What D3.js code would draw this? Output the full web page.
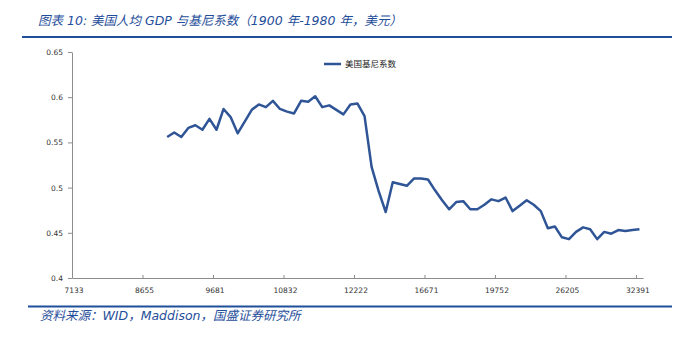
<!DOCTYPE html>
<html>
<head>
<meta charset="utf-8">
<script src="https://cdn.jsdelivr.net/npm/d3@7"></script>
<style>
  body { margin: 0; background: #fff; }
  svg { display: block; }
</style>
</head>
<body>
<svg id="chart" width="679" height="341"></svg>
<script>
// ---- data ----
const years = d3.range(1900, 1981);              // 81 categories (1900-1980)
const xTickIndex = [0, 10, 20, 30, 40, 50, 60, 70, 80];
const xTickLabels = ["7133", "8655", "9681", "10832", "12222", "16671", "19752", "26205", "32391"];
const yTicks = [0.4, 0.45, 0.5, 0.55, 0.6, 0.65];
const yTickLabels = ["0.4", "0.45", "0.5", "0.55", "0.6", "0.65"];
const giniYears = d3.range(1913, 1981);
const giniValues = [
  0.556, 0.561, 0.556, 0.566, 0.569, 0.564, 0.576, 0.564, 0.587, 0.578,
  0.560, 0.573, 0.586, 0.592, 0.589, 0.596, 0.587, 0.584, 0.582, 0.596,
  0.595, 0.601, 0.589, 0.591, 0.586, 0.581, 0.592, 0.593, 0.579, 0.523,
  0.496, 0.473, 0.506, 0.504, 0.502, 0.510, 0.510, 0.509, 0.497, 0.486,
  0.476, 0.484, 0.485, 0.476, 0.476, 0.481, 0.487, 0.485, 0.489, 0.474,
  0.480, 0.486, 0.481, 0.474, 0.455, 0.457, 0.445, 0.443, 0.451, 0.456,
  0.454, 0.443, 0.451, 0.449, 0.453, 0.452, 0.453, 0.454
];
const seriesName = "美国基尼系数";
const title = "图表 10:  美国人均 GDP 与基尼系数（1900 年-1980 年，美元）";
const source = "资料来源：WID，Maddison，国盛证券研究所";

// ---- drawing ----
const svg = d3.select("#chart");
const blue = "#2f5597";
const dark = "#1f4e9a";
const axisColor = "#8c8c8c";

const x = d3.scaleBand().domain(years).range([72, 643]).padding(0);
const xi = d3.scaleLinear().domain([0, years.length]).range([72, 643]);
const y = d3.scaleLinear().domain([0.4, 0.65]).range([278, 52]);

// title
svg.append("text")
  .attr("x", 38).attr("y", 25)
  .attr("font-family", "'DejaVu Sans', 'Noto Sans CJK SC', sans-serif")
  .attr("font-style", "italic")
  .attr("font-size", 12.5)
  .attr("fill", dark)
  .text(title);
svg.append("line")
  .attr("x1", 22).attr("x2", 672).attr("y1", 37).attr("y2", 37)
  .attr("stroke", dark).attr("stroke-width", 2);

// y axis
const yAxis = svg.append("g")
  .attr("transform", "translate(72,0)")
  .call(d3.axisLeft(y).tickValues(yTicks).tickFormat((d, i) => yTickLabels[i])
    .tickSize(4).tickSizeOuter(0).tickPadding(5));
// x axis
const xAxis = svg.append("g")
  .attr("transform", "translate(0,278)")
  .call(d3.axisBottom(xi).tickValues(xTickIndex).tickFormat((d, i) => xTickLabels[i])
    .tickSize(-3).tickSizeOuter(0).tickPadding(9.5));
[yAxis, xAxis].forEach(g => {
  g.select(".domain").attr("stroke", axisColor);
  g.selectAll(".tick line").attr("stroke", axisColor);
  g.selectAll(".tick text")
    .attr("fill", "#333")
    .attr("font-family", "'DejaVu Sans', sans-serif")
    .attr("font-size", 7.5);
});
xAxis.selectAll(".tick text").attr("dx", 1.5);

// line
const pts = giniYears.map((yr, i) => ({ yr, v: giniValues[i] }));
const line = d3.line()
  .x(d => x(d.yr) + x.bandwidth() / 2)
  .y(d => y(d.v));
svg.append("path")
  .datum(pts)
  .attr("d", line)
  .attr("fill", "none")
  .attr("stroke", blue)
  .attr("stroke-width", 2.5)
  .attr("stroke-linejoin", "round");

// legend
svg.append("line")
  .attr("x1", 324).attr("x2", 341).attr("y1", 64).attr("y2", 64)
  .attr("stroke", blue).attr("stroke-width", 2.5);
svg.append("text")
  .attr("x", 345).attr("y", 67)
  .attr("font-family", "'Noto Sans CJK SC', sans-serif")
  .attr("font-size", 8.5)
  .attr("fill", "#222")
  .text(seriesName);

// source
svg.append("line")
  .attr("x1", 28).attr("x2", 672).attr("y1", 306.5).attr("y2", 306.5)
  .attr("stroke", dark).attr("stroke-width", 2);
svg.append("text")
  .attr("x", 40).attr("y", 320)
  .attr("font-family", "'DejaVu Sans', 'Noto Sans CJK SC', sans-serif")
  .attr("font-style", "italic")
  .attr("font-size", 12.5)
  .attr("fill", dark)
  .text(source);
</script>
</body>
</html>
